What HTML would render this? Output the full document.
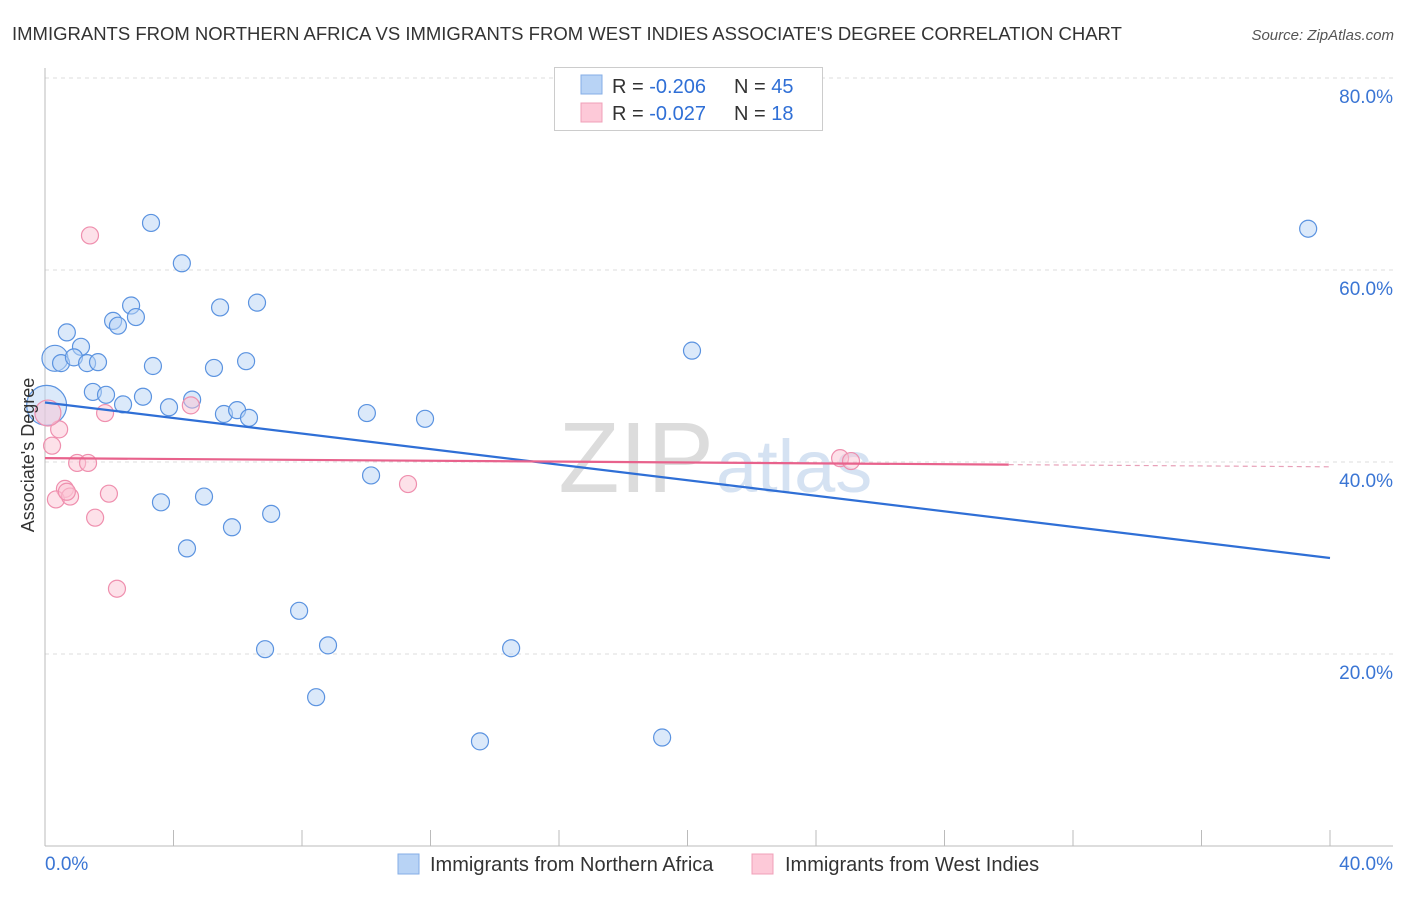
<!DOCTYPE html>
<html><head><meta charset="utf-8"><style>
body{margin:0;background:#fff;font-family:"Liberation Sans",sans-serif;}
svg text{font-family:"Liberation Sans",sans-serif;}
</style></head><body>
<svg id="chart" width="1406" height="892" viewBox="0 0 1406 892">
<text x="12" y="40" font-size="18.5" fill="#333">IMMIGRANTS FROM NORTHERN AFRICA VS IMMIGRANTS FROM WEST INDIES ASSOCIATE'S DEGREE CORRELATION CHART</text>
<text x="1394" y="40" font-size="15" fill="#555" font-style="italic" text-anchor="end">Source: ZipAtlas.com</text>
<g id="grid"></g>
<text x="714" y="492" font-size="100" fill="#dcdcdc" text-anchor="end" font-family="Liberation Serif">ZIP</text>
<text x="716" y="492" font-size="74" fill="#d5e2f2">atlas</text>
<g id="marks"></g>
<text transform="translate(34,455) rotate(-90)" font-size="18" fill="#333" text-anchor="middle">Associate's Degree</text>
<g>
<rect x="554.5" y="67.5" width="268" height="63" fill="#fff" stroke="#ccc"/>
<rect x="581" y="75" width="21" height="19" fill="#b8d3f5" stroke="#85aee6"/>
<rect x="581" y="103" width="21" height="19" fill="#fdc9d8" stroke="#f0a0b8"/>
<text x="612" y="93" font-size="20" fill="#333">R = <tspan fill="#2f6fd6">-0.206</tspan></text>
<text x="734" y="93" font-size="20" fill="#333">N = <tspan fill="#2f6fd6">45</tspan></text>
<text x="612" y="120" font-size="20" fill="#333">R = <tspan fill="#2f6fd6">-0.027</tspan></text>
<text x="734" y="120" font-size="20" fill="#333">N = <tspan fill="#2f6fd6"> 18</tspan></text>
</g>
<g>
<rect x="398" y="854" width="21" height="20" fill="#b8d3f5" stroke="#85aee6"/>
<text x="430" y="871" font-size="20" fill="#333">Immigrants from Northern Africa</text>
<rect x="752" y="854" width="21" height="20" fill="#fdc9d8" stroke="#f0a0b8"/>
<text x="785" y="871" font-size="20" fill="#333">Immigrants from West Indies</text>
</g>
</svg>
<script>
const xTicks=[0,40];
const yTicks=[20,40,60,80];
const blueX=[3.30,4.26,2.68,5.45,6.60,2.12,2.83,2.27,0.68,1.12,0.31,0.50,0.90,1.31,1.65,3.36,5.26,6.26,20.14,1.49,1.90,2.43,3.05,3.86,4.58,5.57,5.98,6.35,10.02,11.83,0.05,10.15,3.61,4.95,5.82,7.04,4.42,7.91,8.81,6.85,14.51,8.44,13.54,19.21,39.32];
const blueY=[64.9,60.7,56.3,56.1,56.6,54.7,55.1,54.2,53.5,52.0,50.8,50.3,50.9,50.3,50.4,50.0,49.8,50.5,51.6,47.3,47.0,46.0,46.8,45.7,46.5,45.0,45.4,44.6,45.1,44.5,45.9,38.6,35.8,36.4,33.2,34.6,31.0,24.5,20.9,20.5,20.6,15.5,10.9,11.3,64.3];
const pinkX=[1.40,0.44,0.22,1.87,4.54,0.09,1.00,1.34,0.62,0.34,0.78,0.68,1.99,1.56,2.24,11.30,24.75,25.09];
const pinkY=[63.6,43.4,41.7,45.1,45.9,45.1,39.9,39.9,37.2,36.1,36.4,36.9,36.7,34.2,26.8,37.7,40.4,40.1];
const blueTrend=[46.2,30.0];
const pinkTrend=[40.4,39.5];
const X=v=>45+v/40*1285;
const Y=v=>846-v/20*192;
const NS='http://www.w3.org/2000/svg';
const svg=document.getElementById('chart');
const grid=document.getElementById('grid');
const marks=document.getElementById('marks');
function mk(tag,attrs,parent){const e=document.createElementNS(NS,tag);for(const k in attrs)e.setAttribute(k,attrs[k]);parent.appendChild(e);return e;}
yTicks.forEach(t=>{
 const l=mk('line',{x1:45,x2:1393,y1:Y(t),y2:Y(t),stroke:'#ddd','stroke-dasharray':'4,4'},grid);
 
 
 const tx=mk('text',{x:1393,y:Y(t)+25,'font-size':19,fill:'#3a75d4','text-anchor':'end'},grid);
 tx.textContent=t.toFixed(1)+'%';
 
 
});
let a=mk('line',{x1:45,x2:45,y1:68,y2:846,stroke:'#bbb'},grid);


a=mk('line',{x1:45,x2:1393,y1:846,y2:846,stroke:'#bbb'},grid);


for(let i=0;i<=10;i++){
 const t=mk('line',{x1:X(i*4),x2:X(i*4),y1:830,y2:846,stroke:'#bbb'},grid);
 
 
}
xTicks.forEach((t,i)=>{
 const tx=mk('text',{x:i==0?45:1393,y:870,'font-size':19,fill:'#3a75d4','text-anchor':i==0?'start':'end'},grid);
 tx.textContent=t.toFixed(1)+'%';
 
 
});
function dot(x,y,r,fill,stroke,name){
 const c=mk('circle',{cx:X(x),cy:Y(y),r:r,fill:fill,'fill-opacity':0.5,stroke:stroke,'stroke-width':1.2},marks);
 
 
}
blueX.forEach((x,i)=>{let r=8.5; if(i==30) r=20; if(i==10) r=13; dot(x,blueY[i],r,'#b8d3f5','#5b93e0','point-northern-africa');});
pinkX.forEach((x,i)=>{let r=8.5; if(i==5) r=13; dot(x,pinkY[i],r,'#fcc4d4','#ef8fae','point-west-indies');});
let tl=mk('line',{x1:X(0),y1:Y(blueTrend[0]),x2:X(40),y2:Y(blueTrend[1]),stroke:'#2f6fd6','stroke-width':2.2},marks);


const pm=v=>pinkTrend[0]+(pinkTrend[1]-pinkTrend[0])*v/40;
tl=mk('line',{x1:X(0),y1:Y(pm(0)),x2:X(30),y2:Y(pm(30)),stroke:'#e8628c','stroke-width':2.2},marks);


tl=mk('line',{x1:X(30),y1:Y(pm(30)),x2:X(40),y2:Y(pm(40)),stroke:'#e8a0b8','stroke-width':1.2,'stroke-dasharray':'5,4'},marks);


</script>
</body></html>
